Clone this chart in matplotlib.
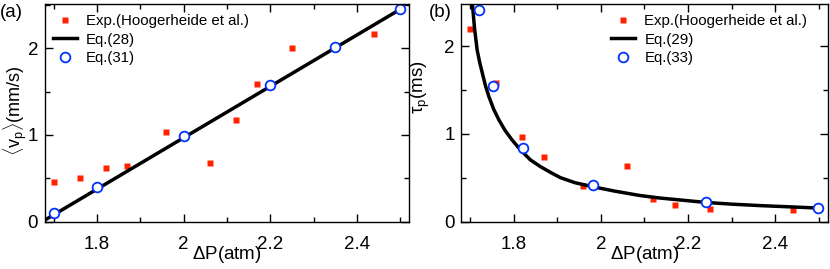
import matplotlib
matplotlib.use("Agg")
import matplotlib.pyplot as plt
from matplotlib.ticker import MultipleLocator

plt.rcParams['font.family'] = ['Liberation Sans', 'DejaVu Sans']
plt.rcParams['mathtext.fontset'] = 'custom'
plt.rcParams['mathtext.rm'] = 'Liberation Sans'
plt.rcParams['mathtext.it'] = 'Liberation Sans:italic'

# experimental pressures (shared by both panels)
exp_dp = [1.70, 1.76, 1.82, 1.87, 1.96, 2.06, 2.12, 2.17, 2.25, 2.44]
exp_v = [0.457, 0.503, 0.622, 0.641, 1.033, 0.672, 1.171, 1.582, 2.008, 2.161]
exp_tau = [2.20, 1.576, 0.962, 0.733, 0.409, 0.633, 0.258, 0.185, 0.148, 0.133]

# Eq.(28) line
eq28_dp = [1.68, 2.50]
eq28_v = [0.02, 2.45]

# Eq.(31) points
eq31_dp = [1.70, 1.80, 2.00, 2.20, 2.35, 2.50]
eq31_v = [0.104, 0.395, 0.987, 1.574, 2.015, 2.457]

# Eq.(29) curve
eq29_dp = [1.705, 1.710, 1.716, 1.722, 1.728, 1.735, 1.743, 1.754, 1.766,
           1.780, 1.796, 1.815, 1.838, 1.861, 1.885, 1.907, 1.940, 1.980,
           2.030, 2.090, 2.135, 2.181, 2.240, 2.300, 2.372, 2.440, 2.500]
eq29_tau = [2.48, 2.20, 1.955, 1.81, 1.69, 1.55, 1.424, 1.28, 1.159,
            1.04, 0.932, 0.82, 0.705, 0.628, 0.560, 0.502, 0.445, 0.400,
            0.350, 0.298, 0.270, 0.248, 0.220, 0.200, 0.182, 0.168, 0.155]

# Eq.(33) points
eq33_dp = [1.72, 1.752, 1.821, 1.981, 2.24, 2.499]
eq33_tau = [2.417, 1.545, 0.841, 0.4125, 0.224, 0.156]

red = '#ff2200'
blue = '#0033ff'

fig = plt.figure(figsize=(8.3, 2.69), dpi=100)
ax1 = fig.add_axes([0.0542, 0.1758, 0.4386, 0.8093])
ax2 = fig.add_axes([0.556, 0.1758, 0.441, 0.8093])


def style(ax):
    ax.set_xlim(1.68, 2.52)
    ax.xaxis.set_minor_locator(MultipleLocator(0.1))
    ax.yaxis.set_minor_locator(MultipleLocator(0.5))
    ax.set_xticks([1.8, 2.0, 2.2, 2.4])
    ax.set_xticklabels(['1.8', '2', '2.2', '2.4'])
    ax.set_yticks([0, 1, 2])
    ax.set_yticklabels(['0', '1', '2'])
    ax.tick_params(which='both', direction='in', top=True, right=True, width=1)
    ax.tick_params(which='major', length=6, labelsize=13.5)
    ax.tick_params(which='minor', length=3.5)
    ax.tick_params(axis='x', pad=10)
    ax.tick_params(axis='y', pad=5)
    for s in ax.spines.values():
        s.set_linewidth(1)
    ax.set_xlabel(r'$\Delta$P(atm)', fontsize=13.5, labelpad=-6)


leg_kw = dict(loc='upper left', frameon=False, fontsize=10.8, handlelength=1.6,
              handletextpad=0.6, labelspacing=0.28, borderaxespad=0.0,
              borderpad=0.4)

# panel (a)
ax1.plot(exp_dp, exp_v, 's', color=red, ms=4.8, mec='none',
         label='Exp.(Hoogerheide et al.)')
ax1.plot(eq28_dp, eq28_v, '-', color='black', lw=2.5, label='Eq.(28)')
ax1.plot(eq31_dp, eq31_v, 'o', mfc='white', mec=blue, mew=1.3, ms=7,
         label='Eq.(31)')
style(ax1)
ax1.set_ylim(0, 2.51)
ax1.set_ylabel(r'$\langle\mathrm{v_p}\rangle$(mm/s)', fontsize=13)
ax1.yaxis.set_label_coords(-0.045, 0.51)
ax1.legend(bbox_to_anchor=(0.005, 0.98), **leg_kw)
fig.text(0.0, 0.985, '(a)', fontsize=13.5, va='top', ha='left')

# panel (b)
ax2.plot(exp_dp, exp_tau, 's', color=red, ms=4.8, mec='none',
         label='Exp.(Hoogerheide et al.)')
ax2.plot(eq29_dp, eq29_tau, '-', color='black', lw=2.5, label='Eq.(29)',
         solid_joinstyle='round')
ax2.plot(eq33_dp, eq33_tau, 'o', mfc='white', mec=blue, mew=1.3, ms=7,
         label='Eq.(33)')
style(ax2)
ax2.set_ylim(0, 2.48)
ax2.set_ylabel(r'$\mathrm{\tau_p}$(ms)', fontsize=13.5)
ax2.yaxis.set_label_coords(-0.08, 0.62)
ax2.legend(bbox_to_anchor=(0.393, 0.98), **leg_kw)
fig.text(0.517, 0.985, '(b)', fontsize=13.5, va='top', ha='left')

fig.savefig('out.png', dpi=100)
